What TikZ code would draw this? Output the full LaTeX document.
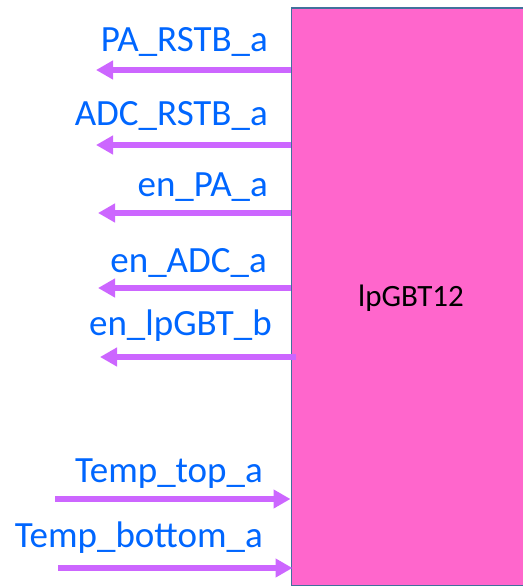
\documentclass[tikz,border=0pt]{standalone}
\usepackage{fontspec}
\setmainfont{Carlito}
\usetikzlibrary{arrows.meta}
\definecolor{chippink}{HTML}{FF66CC}
\definecolor{chipedge}{HTML}{41719C}
\definecolor{sigviolet}{HTML}{CC66FF}
\definecolor{sigblue}{HTML}{0066FF}
\tikzset{
  chipbox/.style={draw=chipedge,line width=1.5pt,fill=chippink,anchor=north west,inner sep=0pt},
  sig/.style={sigviolet,line width=5.5pt,-{Triangle[length=17pt,width=18pt]}},
  siglabel/.style={sigblue,anchor=base east,inner sep=0pt,font=\fontsize{37}{37}\selectfont}
}
\begin{document}
\begin{tikzpicture}[x=1pt,y=-1pt]
  \useasboundingbox (0,0) rectangle (522,586);
  \node[chipbox,minimum width=240pt,minimum height=577pt] (chip) at (290.5,7.5) {}; % lpGBT body
  \node (chiplabel) at (411,298) {\fontsize{31}{31}\selectfont lpGBT12}; % chip name
  % outputs
  \coordinate (pa) at (96,70);
  \coordinate (adc) at (96,145);
  \coordinate (enpa) at (98,213);
  \coordinate (enadc) at (98,288);
  \coordinate (enlp) at (100,357);
  \draw[sig] (chip.west |- pa) -- (pa); % PA reset
  \draw[sig] (chip.west |- adc) -- (adc); % ADC reset
  \draw[sig] (chip.west |- enpa) -- (enpa); % PA enable
  \draw[sig] (chip.west |- enadc) -- (enadc); % ADC enable
  \draw[sig] ([xshift=5pt]chip.west |- enlp) -- (enlp); % lpGBT enable
  \node[siglabel] (palbl) at (268,52) {PA\_RSTB\_a};
  \node[siglabel] (adclbl) at (268,125) {ADC\_RSTB\_a};
  \node[siglabel] (enpalbl) at (268,196) {en\_PA\_a};
  \node[siglabel] (enadclbl) at (267,272) {en\_ADC\_a};
  \node[siglabel] (enlplbl) at (272,335) {en\_lpGBT\_b};
  % inputs
  \coordinate (ttop) at (55,499);
  \coordinate (tbot) at (58,568);
  \draw[sig] (ttop) -- (chip.west |- ttop); % top temperature
  \draw[sig] (tbot) -- ([xshift=2pt]chip.west |- tbot); % bottom temperature
  \node[siglabel] (ttoplbl) at (263,482) {Temp\_top\_a};
  \node[siglabel] (tbotlbl) at (263,547) {Temp\_bottom\_a};
\end{tikzpicture}
\end{document}
